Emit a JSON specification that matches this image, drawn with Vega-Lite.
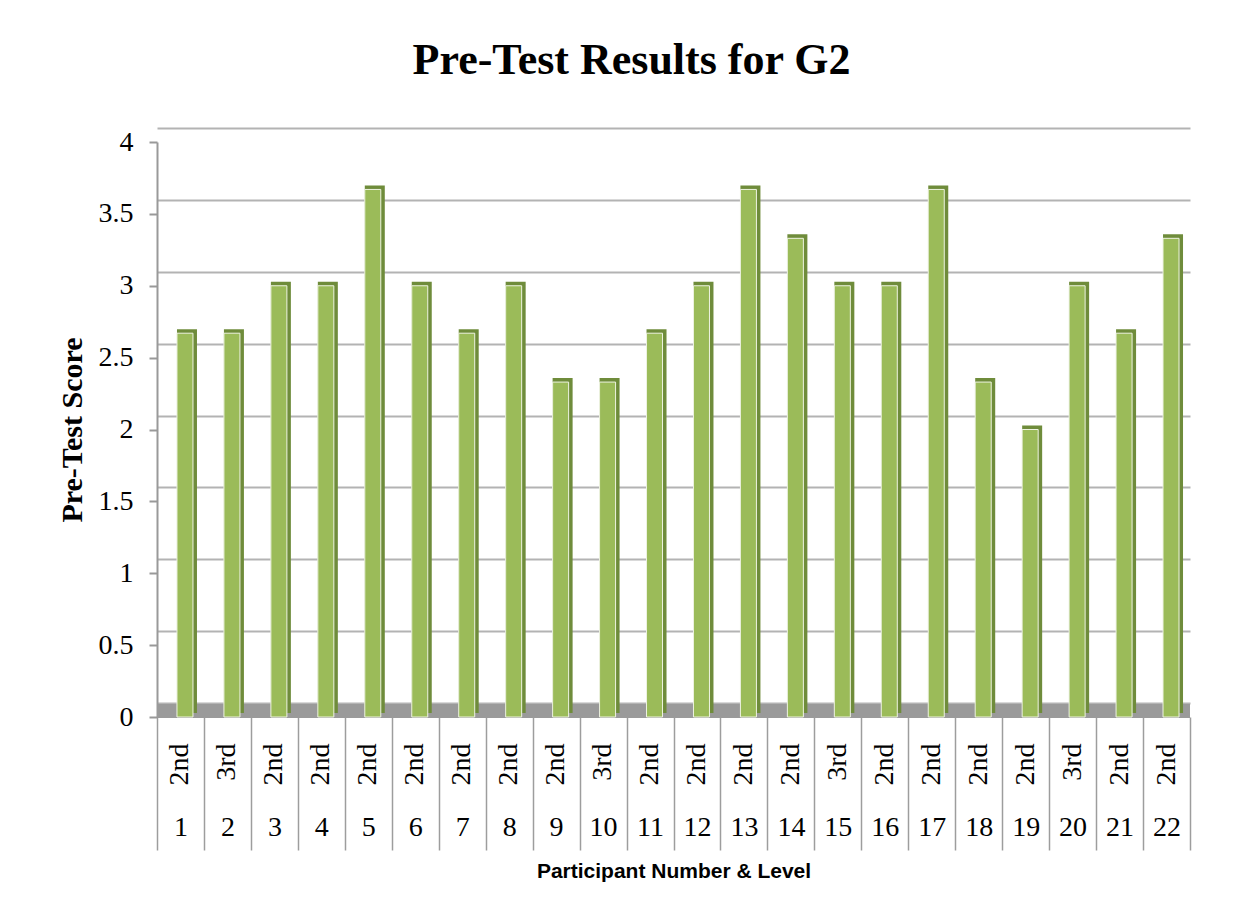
{
  "$schema": "https://vega.github.io/schema/vega-lite/v6.json",
  "width": 1033,
  "height": 575,
  "autosize": "none",
  "padding": {"left": 157, "top": 142, "right": 49, "bottom": 202},
  "background": "white",
  "title": {"text": "Pre-Test Results for G2", "font": "Liberation Serif", "fontSize": 44, "fontWeight": "bold", "color": "black", "anchor": "middle", "dx": -42, "offset": 45},
  "config": {"view": {"stroke": null}},
  "data": {"values": [
    {"participant": 1, "level": "2nd", "key": "1|2nd", "score": 2.67},
    {"participant": 2, "level": "3rd", "key": "2|3rd", "score": 2.67},
    {"participant": 3, "level": "2nd", "key": "3|2nd", "score": 3},
    {"participant": 4, "level": "2nd", "key": "4|2nd", "score": 3},
    {"participant": 5, "level": "2nd", "key": "5|2nd", "score": 3.67},
    {"participant": 6, "level": "2nd", "key": "6|2nd", "score": 3},
    {"participant": 7, "level": "2nd", "key": "7|2nd", "score": 2.67},
    {"participant": 8, "level": "2nd", "key": "8|2nd", "score": 3},
    {"participant": 9, "level": "2nd", "key": "9|2nd", "score": 2.33},
    {"participant": 10, "level": "3rd", "key": "10|3rd", "score": 2.33},
    {"participant": 11, "level": "2nd", "key": "11|2nd", "score": 2.67},
    {"participant": 12, "level": "2nd", "key": "12|2nd", "score": 3},
    {"participant": 13, "level": "2nd", "key": "13|2nd", "score": 3.67},
    {"participant": 14, "level": "2nd", "key": "14|2nd", "score": 3.33},
    {"participant": 15, "level": "3rd", "key": "15|3rd", "score": 3},
    {"participant": 16, "level": "2nd", "key": "16|2nd", "score": 3},
    {"participant": 17, "level": "2nd", "key": "17|2nd", "score": 3.67},
    {"participant": 18, "level": "2nd", "key": "18|2nd", "score": 2.33},
    {"participant": 19, "level": "2nd", "key": "19|2nd", "score": 2},
    {"participant": 20, "level": "3rd", "key": "20|3rd", "score": 3},
    {"participant": 21, "level": "2nd", "key": "21|2nd", "score": 2.67},
    {"participant": 22, "level": "2nd", "key": "22|2nd", "score": 3.33}
  ]},
  "resolve": {"axis": {"x": "independent", "y": "independent"}},
  "layer": [
    {
      "mark": {"type": "rule", "color": "#9a9a9a", "strokeWidth": 13, "yOffset": -6},
      "encoding": {"y": {"datum": 0, "type": "quantitative", "scale": {"domain": [0, 4]}, "axis": null}}
    },
    {
      "mark": {"type": "bar", "width": 20, "xOffset": 6.5, "yOffset": -4, "color": "#6f8c3b"},
      "encoding": {
        "x": {"field": "key", "type": "ordinal", "sort": null, "scale": {"paddingInner": 0, "paddingOuter": 0},
          "axis": {"orient": "bottom", "title": "Participant Number & Level", "labelExpr": "split(datum.label,'|')[0]", "labelAngle": 0,
            "ticks": true, "tickSize": 133, "tickBand": "extent", "tickColor": "#9d9d9d", "tickWidth": 1.5, "domain": false,
            "labelPadding": -37, "labelFont": "Liberation Serif", "labelFontSize": 28, "labelColor": "black",
            "titleFont": "Liberation Sans", "titleFontSize": 21, "titleFontWeight": "bold", "titleColor": "black", "titlePadding": 10, "grid": false}},
        "y": {"field": "score", "type": "quantitative", "scale": {"domain": [0, 4]},
          "axis": {"orient": "left", "values": [0, 0.5, 1, 1.5, 2, 2.5, 3, 3.5, 4], "grid": true, "gridColor": "#b3b3b3", "gridWidth": 2, "tickOffset": -14,
            "labels": false, "ticks": false, "domain": false, "title": null}}
      }
    },
    {
      "mark": {"type": "bar", "width": 16, "xOffset": 4.5, "color": "#9bbb59", "stroke": "#eef3e2", "strokeWidth": 1},
      "encoding": {
        "x": {"field": "key", "type": "ordinal", "sort": null,
          "axis": {"orient": "bottom", "title": null, "labelExpr": "split(datum.label,'|')[1]", "labelAngle": -90, "ticks": false, "domain": false,
            "labelPadding": 26, "labelFont": "Liberation Serif", "labelFontSize": 28, "labelColor": "black", "grid": false}},
        "y": {"field": "score", "type": "quantitative",
          "axis": {"orient": "left", "values": [0, 0.5, 1, 1.5, 2, 2.5, 3, 3.5, 4], "format": "~g", "grid": false,
            "domain": true, "domainColor": "#999999", "domainWidth": 2, "ticks": true, "tickSize": 8, "tickColor": "#999999", "tickWidth": 2,
            "labelFont": "Liberation Serif", "labelFontSize": 28, "labelColor": "black", "labelPadding": 16,
            "title": "Pre-Test Score", "titleFont": "Liberation Serif", "titleFontSize": 30, "titleFontWeight": "bold", "titleColor": "black", "titlePadding": 11}}
      }
    }
  ]
}
